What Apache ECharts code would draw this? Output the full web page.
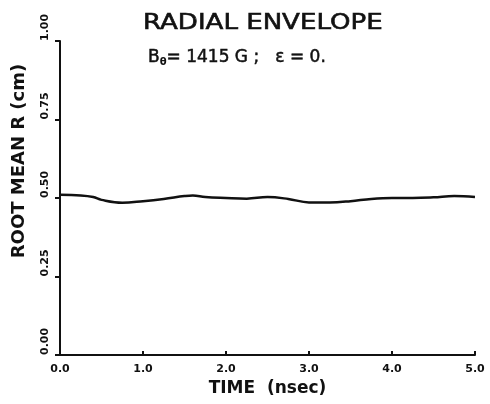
<!DOCTYPE html>
<html><head><meta charset="utf-8">
<script src="https://cdn.jsdelivr.net/npm/echarts@6/dist/echarts.min.js"></script>
<style>html,body{margin:0;padding:0;background:#fff}#c{width:490px;height:404px}</style>
</head><body><div id="c"></div>
<script>
var titleText = 'RADIAL ENVELOPE';
var xName = 'TIME  (nsec)';
var yName = 'ROOT MEAN R (cm)';
var timeNs = [0.0, 0.25, 0.4, 0.5, 0.75, 1.0, 1.25, 1.5, 1.6, 1.75, 2.0, 2.25, 2.5, 2.75, 3.0, 3.25, 3.5, 3.75, 4.0, 4.25, 4.5, 4.75, 5.0];
var rmsR =   [0.510, 0.508, 0.503, 0.494, 0.485, 0.490, 0.497, 0.506, 0.508, 0.503, 0.500, 0.498, 0.503, 0.497, 0.486, 0.486, 0.490, 0.497, 0.500, 0.500, 0.502, 0.506, 0.503];
var xTicks = ['0.0','1.0','2.0','3.0','4.0','5.0'];
var yTicks = ['0.00','0.25','0.50','0.75','1.00'];

var chart = echarts.init(document.getElementById('c'), null, {renderer:'canvas'});
var F = 'DejaVu Sans';
chart.setOption({
  backgroundColor:'#fff',
  animation:false,
  title:[{
    text: '{b|B}{s|θ}{b|= 1415 G ;   ε = 0.}', left: 143, top: 44,
    textStyle:{rich:{
      b:{fontFamily:F, fontSize:17, fontWeight:'normal', color:'#111', textBorderColor:'#111', textBorderWidth:0.5},
      s:{fontFamily:F, fontSize:10, fontWeight:'bold', color:'#111', verticalAlign:'bottom', padding:[8,0,0,0]}
    }}
  }],
  grid:{left:60, right:15, top:41, bottom:49},
  xAxis:{
    type:'value', min:0, max:5, interval:1,
    name: xName, nameLocation:'middle', nameGap:23,
    nameTextStyle:{fontFamily:F, fontSize:17, fontWeight:'bold', color:'#111'},
    axisLine:{onZero:false, lineStyle:{color:'#111', width:2}},
    axisTick:{show:true, inside:true, length:4, lineStyle:{color:'#111', width:2}},
    axisLabel:{fontFamily:F, fontSize:11, fontWeight:'bold', color:'#111', margin:9,
      formatter:function(v){return xTicks[Math.round(v)];}},
    splitLine:{show:false}
  },
  yAxis:{
    type:'value', min:0, max:1, interval:0.25,
    axisLine:{show:true, onZero:false, lineStyle:{color:'#111', width:2}},
    axisTick:{show:true, length:5, lineStyle:{color:'#111', width:2}},
    axisLabel:{fontFamily:F, fontSize:11, fontWeight:'bold', color:'#111', margin:15,
      rotate:90, align:'left', verticalAlign:'middle',
      formatter:function(v){return yTicks[Math.round(v*4)];}},
    splitLine:{show:false}
  },
  graphic:[{
    type:'text', x:143, y:13, scaleX:1.24,
    style:{text:titleText, font:'normal 21px "DejaVu Sans"', fill:'#111', stroke:'#111', lineWidth:0.6, align:'left', verticalAlign:'top'}
  },{
    type:'text', x:19, y:161, rotation:Math.PI/2,
    style:{text:yName, font:'bold 18px "DejaVu Sans"', fill:'#111', align:'center', verticalAlign:'middle'}
  }],
  series:[{
    type:'line', data: timeNs.map(function(t,i){return [t, rmsR[i]];}),
    smooth:0.4, showSymbol:false,
    lineStyle:{color:'#111', width:2.5}
  }]
});
</script></body></html>
